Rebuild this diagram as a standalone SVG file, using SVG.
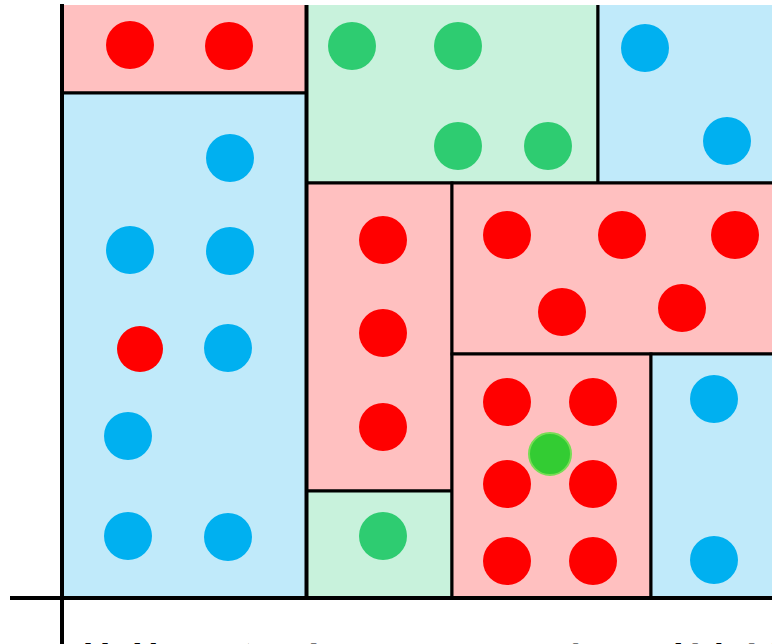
<svg xmlns="http://www.w3.org/2000/svg" width="772" height="644" viewBox="0 0 772 644">
<style>
.box{stroke:#000;stroke-width:3}
.pk{fill:#ffc0c0}
.bl{fill:#c0eafa}
.gr{fill:#c8f2dc}
.r{fill:#ff0000}
.b{fill:#00b0f0}
.g{fill:#2ecc71}
.axis{stroke:#000;stroke-width:4}
.cap{font-family:"Liberation Serif",serif;font-size:34px;fill:#000}
</style>
<defs><clipPath id="plot"><rect x="0" y="5" width="772" height="639"/></clipPath></defs>
<g clip-path="url(#plot)">
<g id="box-red-topleft"><rect class="box pk" x="62" y="-10" width="244" height="103"/><circle class="r" cx="130" cy="45" r="24"/><circle class="r" cx="229" cy="46" r="24"/></g>
<g id="box-blue-left"><rect class="box bl" x="62" y="93" width="244" height="505"/>
<circle class="b" cx="230" cy="158" r="24"/><circle class="b" cx="130" cy="250" r="24"/><circle class="b" cx="230" cy="251" r="24"/>
<circle class="r" cx="140" cy="349" r="23"/><circle class="b" cx="228" cy="348" r="24"/><circle class="b" cx="128" cy="436" r="24"/>
<circle class="b" cx="128" cy="536" r="24"/><circle class="b" cx="228" cy="537" r="24"/></g>
<g id="box-green-top"><rect class="box gr" x="307" y="-10" width="291" height="193"/>
<circle class="g" cx="352" cy="46" r="24"/><circle class="g" cx="458" cy="46" r="24"/><circle class="g" cx="458" cy="146" r="24"/><circle class="g" cx="548" cy="146" r="24"/></g>
<g id="box-blue-topright"><rect class="box bl" x="598" y="-10" width="176" height="193"/>
<circle class="b" cx="645" cy="48" r="24"/><circle class="b" cx="727" cy="141" r="24"/></g>
<g id="box-red-mid"><rect class="box pk" x="307" y="183" width="145" height="308"/>
<circle class="r" cx="383" cy="240" r="24"/><circle class="r" cx="383" cy="333" r="24"/><circle class="r" cx="383" cy="427" r="24"/></g>
<g id="box-red-right"><rect class="box pk" x="452" y="183" width="322" height="171"/>
<circle class="r" cx="507" cy="235" r="24"/><circle class="r" cx="622" cy="235" r="24"/><circle class="r" cx="735" cy="235" r="24"/>
<circle class="r" cx="562" cy="312" r="24"/><circle class="r" cx="682" cy="308" r="24"/></g>
<g id="box-green-bottom"><rect class="box gr" x="307" y="491" width="145" height="107"/><circle class="g" cx="383" cy="536" r="24"/></g>
<g id="box-red-bottom"><rect class="box pk" x="452" y="354" width="199" height="244"/>
<circle class="r" cx="507" cy="402" r="24"/><circle class="r" cx="593" cy="402" r="24"/>
<circle class="r" cx="507" cy="484" r="24"/><circle class="r" cx="593" cy="484" r="24"/>
<circle class="r" cx="507" cy="561" r="24"/><circle class="r" cx="593" cy="561" r="24"/>
<circle cx="550" cy="454" r="21" fill="#33cc33" stroke="#77dd55" stroke-width="2"/></g>
<g id="box-blue-bottomright"><rect class="box bl" x="651" y="354" width="123" height="244"/>
<circle class="b" cx="714" cy="399" r="24"/><circle class="b" cx="714" cy="560" r="24"/></g>
</g>
<g id="axes"><line class="axis" x1="10" y1="598" x2="772" y2="598"/><line class="axis" x1="62" y1="4" x2="62" y2="644"/></g>
<text class="cap" x="26" y="667">in added boxes (overlapping regions with mixed labels)</text>
</svg>
